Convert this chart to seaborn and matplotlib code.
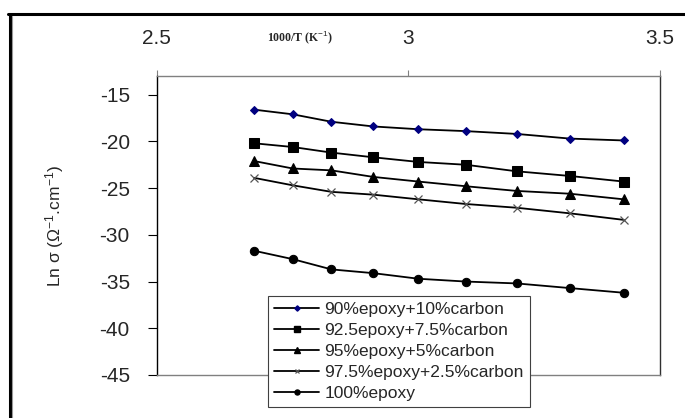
import pandas as pd
import seaborn as sns
import matplotlib
matplotlib.use("Agg")
from matplotlib import pyplot as plt
from matplotlib.lines import Line2D

# 1000/T values
inv_t = [2.693, 2.770, 2.847, 2.930, 3.020, 3.114, 3.215, 3.321, 3.428]

# Ln sigma for each composition
c10 = [-16.6, -17.1, -17.9, -18.4, -18.7, -18.9, -19.2, -19.7, -19.9]
c75 = [-20.2, -20.6, -21.2, -21.7, -22.2, -22.5, -23.2, -23.7, -24.3]
c5 = [-22.1, -22.9, -23.1, -23.8, -24.3, -24.8, -25.3, -25.6, -26.2]
c25 = [-23.9, -24.7, -25.4, -25.7, -26.2, -26.7, -27.1, -27.7, -28.4]
c0 = [-31.7, -32.6, -33.7, -34.1, -34.7, -35.0, -35.2, -35.7, -36.2]

labels = ["90%epoxy+10%carbon", "92.5epoxy+7.5%carbon", "95%epoxy+5%carbon",
          "97.5%epoxy+2.5%carbon", "100%epoxy"]
series = [c10, c75, c5, c25, c0]

sns.set_style("white")
plt.rcParams["font.family"] = ["Liberation Sans", "DejaVu Sans"]
plt.rcParams["axes.unicode_minus"] = False
plt.rcParams["mathtext.fontset"] = "custom"
plt.rcParams["mathtext.rm"] = "Liberation Sans"
plt.rcParams["mathtext.it"] = "Liberation Sans"

fig = plt.figure(figsize=(6.85, 4.18), dpi=100)
ax = fig.add_axes([0.229, 0.1029, 0.7345, 0.7153])

styles = [
    dict(marker="D", markersize=4.5, markerfacecolor="#000080", markeredgecolor="#000080"),
    dict(marker="s", markersize=6.5, markerfacecolor="black", markeredgecolor="black"),
    dict(marker="^", markersize=6.5, markerfacecolor="black", markeredgecolor="black"),
    dict(marker="x", markersize=6, markeredgecolor="#555555", markeredgewidth=0.9),
    dict(marker="o", markersize=6, markerfacecolor="black", markeredgecolor="black"),
]

for vals, lab, st in zip(series, labels, styles):
    sns.lineplot(x=inv_t, y=vals, ax=ax, color="black", linewidth=1.3,
                 label=lab, legend=False, **st)

ax.set_xlim(2.5, 3.5)
ax.set_ylim(-45, -13)
ax.set_xticks([2.5, 3, 3.5])
ax.set_xticklabels(["2.5", "3", "3.5"])
ax.set_yticks([-15, -20, -25, -30, -35, -40, -45])
ax.set_yticklabels(["-15", "-20", "-25", "-30", "-35", "-40", "-45"])
ax.xaxis.tick_top()
ax.tick_params(axis="x", direction="out", length=4.5, width=0.8, color="#808080",
               labelsize=15, pad=16)
ax.tick_params(axis="y", direction="out", length=6.5, width=0.8, color="black",
               labelsize=15, pad=13, left=True)

for side in ["top", "bottom"]:
    ax.spines[side].set_color("#808080")
    ax.spines[side].set_linewidth(1.0)
ax.spines["right"].set_color("#303030")
ax.spines["right"].set_linewidth(1.0)
ax.spines["left"].set_color("black")
ax.spines["left"].set_linewidth(1.0)

ax.set_xlabel("")
ax.set_ylabel(r"Ln σ (Ω$^{-1}$.cm$^{-1}$)", fontsize=12.5)
ax.yaxis.set_label_coords(-0.18, 0.5)

fig.text(0.438, 0.911, r"1000/T (K$^{-1}$)", family="Liberation Serif",
         fontsize=8.5, fontweight="bold", ha="center", va="center")

handles = [Line2D([0], [0], color="black", linewidth=1.3,
                  **{k: (v * 0.6 if k == "markersize" else v) for k, v in st.items()})
           for st in styles]
leg = ax.legend(handles, labels, loc="lower left",
                bbox_to_anchor=(268 / 685, 1 - 407 / 418), bbox_transform=fig.transFigure,
                fontsize=12.5, frameon=True, fancybox=False, framealpha=1,
                edgecolor="#404040", handlelength=2.6, handletextpad=0.3,
                labelspacing=0.33, borderpad=0.35, borderaxespad=0)
leg.get_frame().set_linewidth(0.8)

# outer frame of the original figure (cut at right and bottom)
fig.add_artist(Line2D([8 / 685, 1.0], [1 - 14 / 418, 1 - 14 / 418], color="black",
                      linewidth=2.2, transform=fig.transFigure))
fig.add_artist(Line2D([9.5 / 685, 9.5 / 685], [1 - 14 / 418, 0.0], color="black",
                      linewidth=2.2, transform=fig.transFigure))
fig.add_artist(Line2D([12.5 / 685, 12.5 / 685], [1 - 16 / 418, 0.0], color="#999999",
                      linewidth=0.8, transform=fig.transFigure))

fig.savefig("out.png", dpi=100)
